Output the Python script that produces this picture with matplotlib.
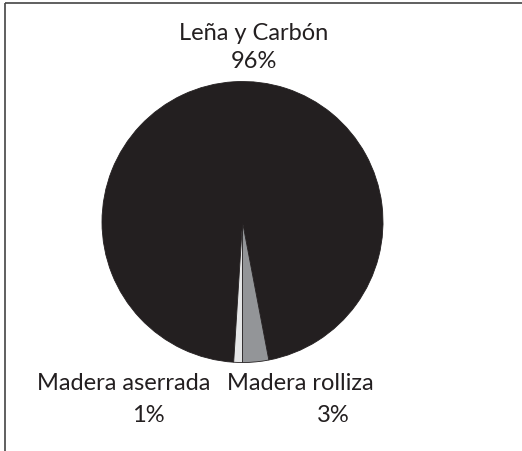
import matplotlib.pyplot as plt

# Datos del grafico de pastel
categorias = ['Leña y Carbón', 'Madera rolliza', 'Madera aserrada']
participacion = [96, 3, 1]
etiquetas_pct = ['96%', '3%', '1%']
colores = ['#231f20', '#939598', '#e6e7e8']

W, H = 522, 451
fig = plt.figure(figsize=(W / 100, H / 100), dpi=100)
ax = fig.add_axes([0, 0, 1, 1])

# Pastel (sentido horario, las rebanadas pequenas abajo)
ax.pie(participacion, colors=colores, startangle=266.4, counterclock=False,
       center=(242.5, H - 222), radius=140.5, frame=True,
       wedgeprops={'edgecolor': '#231f20', 'linewidth': 0.6})
ax.set_xlim(0, W)
ax.set_ylim(0, H)
ax.set_aspect('auto')
ax.axis('off')

fuente = 'Lato'
tam = 17
# Etiquetas
ax.text(254, H - 33, categorias[0], ha='center', va='center', fontsize=tam, family=fuente, color='#231f20')
ax.text(254, H - 62, etiquetas_pct[0], ha='center', va='center', fontsize=tam, family=fuente, color='#231f20')
ax.text(300, H - 384, categorias[1], ha='center', va='center', fontsize=tam, family=fuente, color='#231f20')
ax.text(333, H - 416, etiquetas_pct[1], ha='center', va='center', fontsize=tam, family=fuente, color='#231f20')
ax.text(124, H - 384, categorias[2], ha='center', va='center', fontsize=tam, family=fuente, color='#231f20')
ax.text(148, H - 416, etiquetas_pct[2], ha='center', va='center', fontsize=tam, family=fuente, color='#231f20')

# Marco (solo arriba e izquierda)
ax.plot([5, W], [H - 3, H - 3], color='#444444', linewidth=1.2, solid_capstyle='butt')
ax.plot([5, 5], [H - 3, 0], color='#444444', linewidth=1.2, solid_capstyle='butt')

plt.savefig('out.png', dpi=100)
